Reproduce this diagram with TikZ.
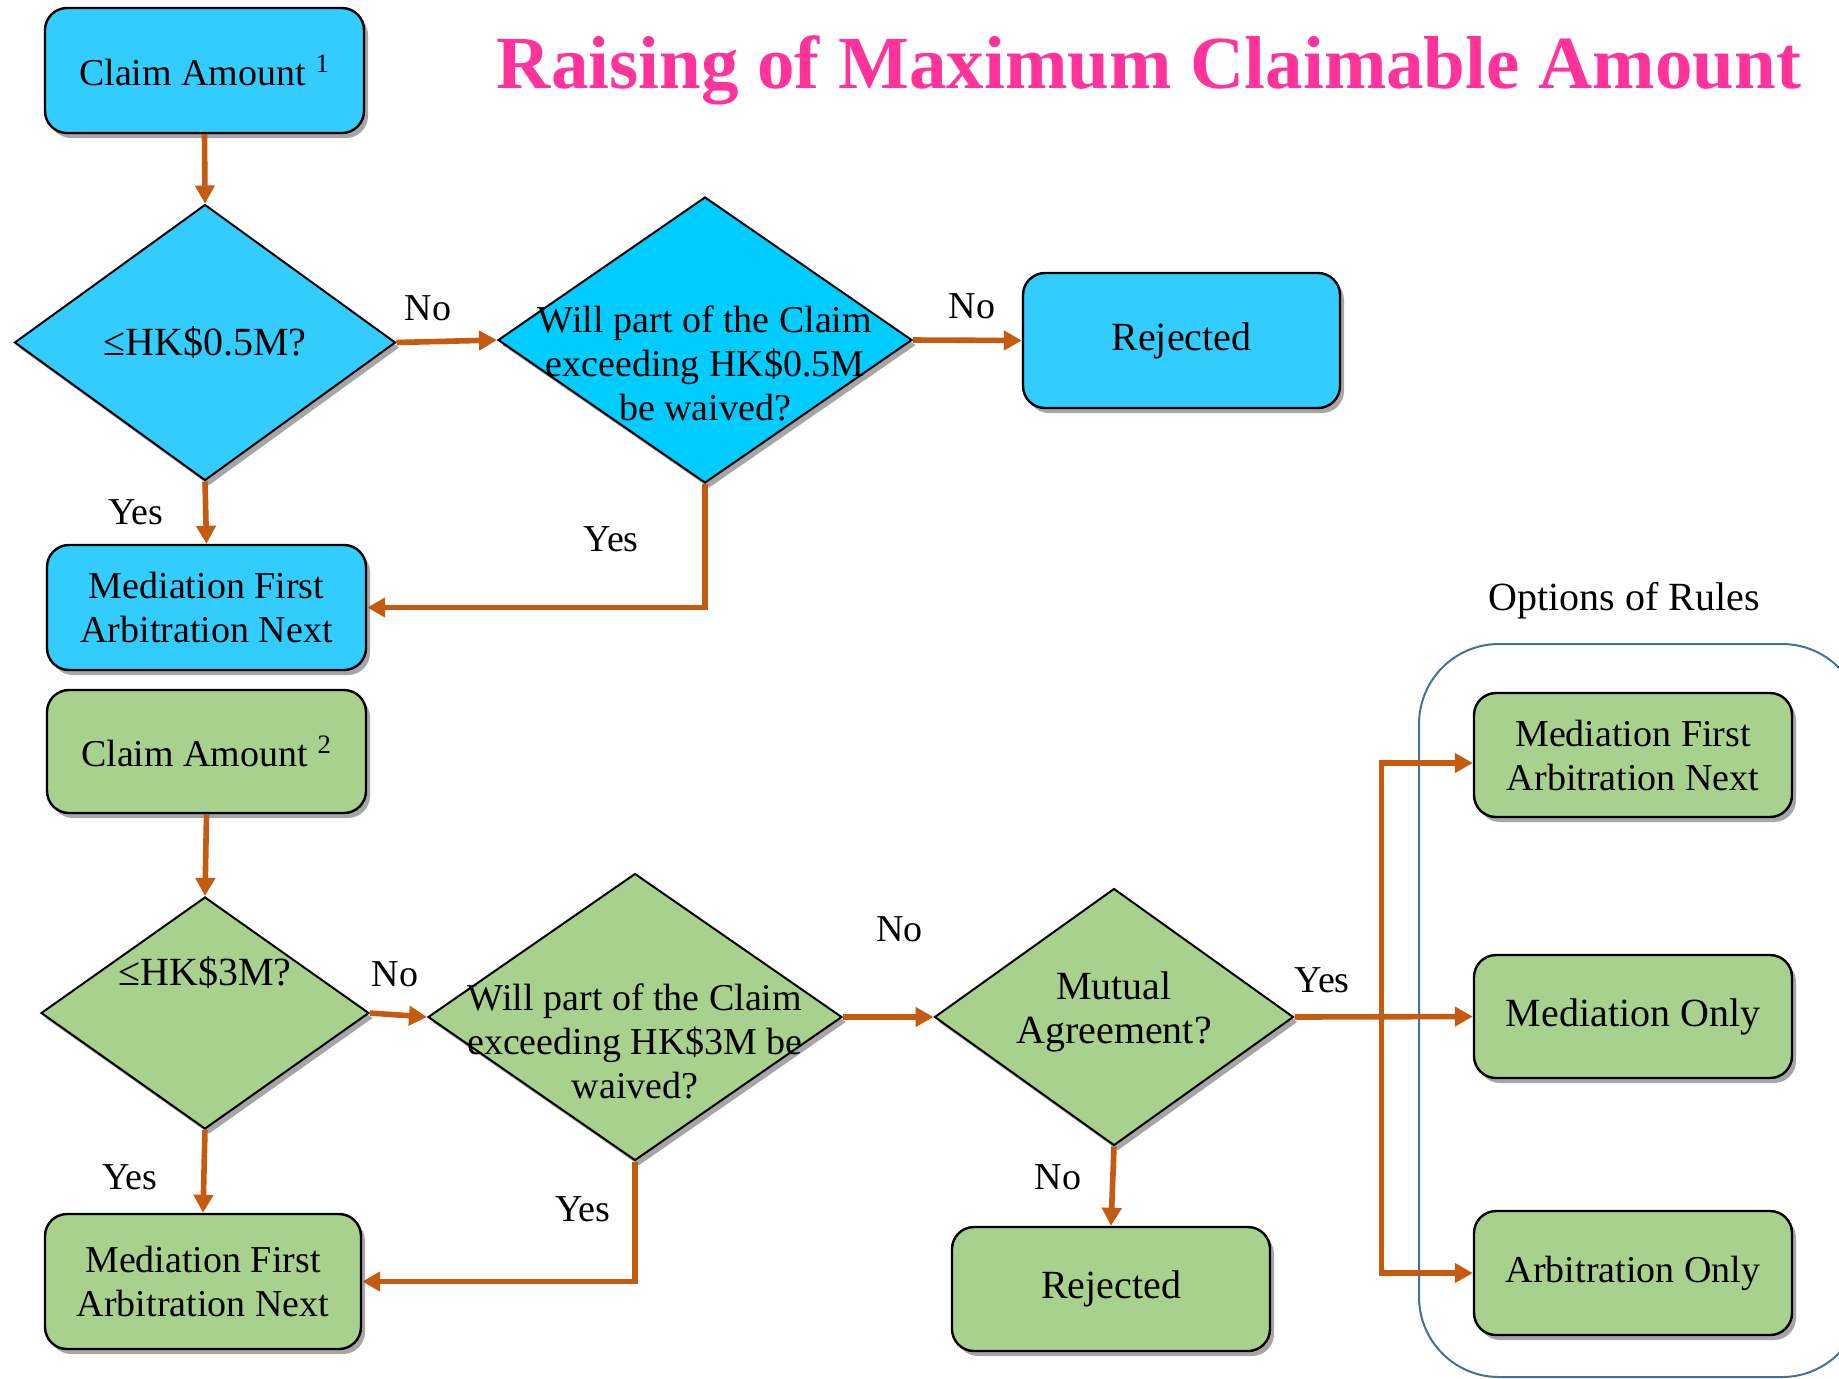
\documentclass[tikz,border=0pt]{standalone}
\usepackage{fontspec}
\setmainfont{Liberation Serif}
\usetikzlibrary{shapes.geometric,arrows.meta,shadows,calc}
\definecolor{bluebox}{HTML}{33CCFF}
\definecolor{bluedia}{HTML}{00CCFF}
\definecolor{greenbox}{HTML}{A9D18E}
\definecolor{arrowor}{HTML}{C55A11}
\definecolor{titlepink}{HTML}{FF3399}
\definecolor{frameblue}{HTML}{41719C}
\tikzset{
  shad/.style={drop shadow={shadow xshift=2pt,shadow yshift=-2.5pt,opacity=0.35,fill=black}},
  box/.style={rectangle,draw=black,line width=1.2pt,rounded corners=11pt,align=center,
    inner sep=0pt,font=\fontsize{19}{22}\selectfont,shad},
  dia/.style={diamond,draw=black,line width=1pt,inner sep=0pt,shad},
  txt/.style={align=center,inner sep=0pt,font=\fontsize{19}{22}\selectfont},
  lab/.style={inner sep=0pt,font=\fontsize{19}{22}\selectfont},
  arr/.style={draw=arrowor,line width=2.8pt,-{Triangle[length=9pt,width=9.5pt]}},
}
\begin{document}
\begin{tikzpicture}[x=0.5pt,y=-0.5pt]
\useasboundingbox (0,0) rectangle (1839,1378);

% title
\node[font=\fontsize{37.5}{40}\selectfont\bfseries,text=titlepink,inner sep=0pt] (title) at (1149,70) {Raising of Maximum Claimable Amount};

% options frame
\begin{scope}
\clip (0,0) rectangle (1839,1378);
\draw[frameblue,line width=1pt,rounded corners=40pt] (1419,644) rectangle (1862,1377);
\end{scope}
\node[lab,font=\fontsize{20}{22}\selectfont] (opt) at (1624,601) {Options of Rules};

% top (blue) flow
\node[box,fill=bluebox,minimum width=159.5pt,minimum height=62.5pt] (c1) at (204.5,70.5) {Claim Amount \textsuperscript{1}};
\node[dia,fill=bluebox,minimum width=190.5pt,minimum height=138pt] (d1) at (205,342.5) {};
\node[txt,font=\fontsize{20}{22}\selectfont] (d1t) at (d1.center) {≤HK\$0.5M?};
\node[dia,fill=bluedia,minimum width=207pt,minimum height=143pt] (d2) at (705,340) {};
\node[txt] (d2t) at (705,363.5) {Will part of the Claim\\exceeding HK\$0.5M\\be waived?};
\node[box,fill=bluebox,minimum width=158.5pt,minimum height=67.5pt,font=\fontsize{20}{22}\selectfont] (r1) at (1181.5,340.5) {Rejected};
\node[box,fill=bluebox,minimum width=159.5pt,minimum height=62.5pt] (m1) at (206.5,607.5) {Mediation First\\Arbitration Next};

% bottom (green) flow
\node[box,fill=greenbox,minimum width=159.5pt,minimum height=61.5pt] (c2) at (206.5,751.5) {Claim Amount \textsuperscript{2}};
\node[dia,fill=greenbox,minimum width=164pt,minimum height=116pt] (d3) at (205,1013) {};
\node[txt,font=\fontsize{20}{22}\selectfont] (d3t) at (205,973) {≤HK\$3M?};
\node[dia,fill=greenbox,minimum width=207pt,minimum height=143.5pt] (d4) at (635,1017) {};
\node[txt] (d4t) at (635,1041) {Will part of the Claim\\exceeding HK\$3M be\\waived?};
\node[dia,fill=greenbox,minimum width=179.5pt,minimum height=128.5pt] (mu) at (1114,1017) {};
\node[txt,font=\fontsize{20}{22}\selectfont] (mut) at (1114,1012) {Mutual\\Agreement?};
\node[box,fill=greenbox,minimum width=159pt,minimum height=62pt,font=\fontsize{20}{22}\selectfont] (r2) at (1111,1289) {Rejected};
\node[box,fill=greenbox,minimum width=158pt,minimum height=67.5pt] (m2) at (203,1281.5) {Mediation First\\Arbitration Next};

\node[box,fill=greenbox,minimum width=159pt,minimum height=62pt] (o1) at (1633,755) {Mediation First\\Arbitration Next};
\node[box,fill=greenbox,minimum width=159pt,minimum height=61.5pt,font=\fontsize{20}{22}\selectfont] (o2) at (1633,1016.5) {Mediation Only};
\node[box,fill=greenbox,minimum width=159pt,minimum height=62pt] (o3) at (1633,1273) {Arbitration Only};

% connectors
\draw[arr] (c1.south) -- (d1.north);
\draw[arr] (d1.east) -- (d2.west);
\draw[arr] (d2.east) -- (r1.west);
\draw[arr] (d1.south) -- (m1.north);
\draw[arr] (d2.south) |- (m1.east);

\draw[arr] (c2.south) -- (d3.north);
\draw[arr] (d3.east) -- (d4.west);
\draw[arr] (d3.south) -- (m2.north);
\draw[arr] (d4.south) |- (m2.east);
\draw[arr] (d4.east) -- (mu.west);
\draw[arr] (mu.south) -- (r2.north);
\draw[arr] (mu.east) -- (o2.west);
\coordinate (bx) at (1381.5,1017);
\draw[arr] (bx) |- ([yshift=-4pt]o1.west);
\draw[arr] (bx) |- (o3.west);

% labels
\node[lab] (l1) at (428,308) {No};
\node[lab] (l2) at (972,306) {No};
\node[lab] (l3) at (136,512.5) {Yes};
\node[lab] (l4) at (611,539.5) {Yes};
\node[lab] (l5) at (395,974.5) {No};
\node[lab] (l6) at (130,1177.5) {Yes};
\node[lab] (l7) at (583,1209) {Yes};
\node[lab] (l8) at (899.5,929) {No};
\node[lab] (l9) at (1058,1177.5) {No};
\node[lab] (l10) at (1322,980.5) {Yes};
\end{tikzpicture}
\end{document}
